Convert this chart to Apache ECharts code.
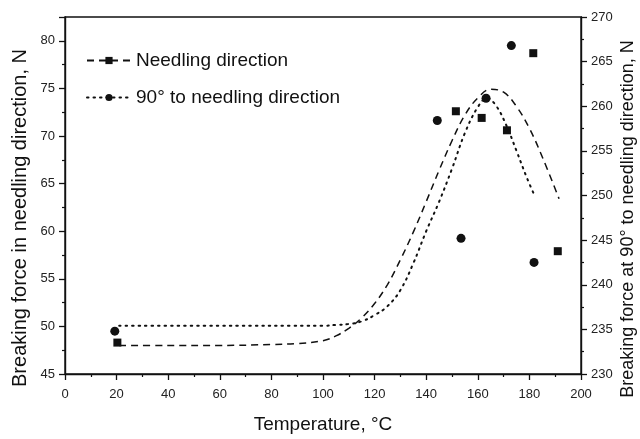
<!DOCTYPE html>
<html>
<head>
<meta charset="utf-8">
<script src="https://cdn.jsdelivr.net/npm/echarts@6/dist/echarts.min.js"></script>
<style>html,body{margin:0;padding:0;background:#fff}#c{width:640px;height:439px}</style>
</head>
<body>
<div id="c"></div>
<script>
// Measured points: Needling direction (left axis, N)
const needlingPts = [[20.3, 48.3], [151.5, 72.6], [161.5, 71.9], [171.3, 70.6], [181.5, 78.7], [191, 57.9]];
// Measured points: 90° to needling direction (right axis, N)
const crossPts = [[19.3, 234.8], [144.3, 258.4], [153.5, 245.2], [163.2, 260.9], [173, 266.8], [181.8, 242.5]];
// Fitted curve: Needling direction (left axis)
const needlingFit = [[21, 48.0], [40, 48.0], [60, 48.0], [80, 48.1], [90, 48.2], [100, 48.5], [105, 49.0], [110, 49.8], [115, 50.9], [120, 52.4], [125, 54.4], [130, 57.0], [135, 59.9], [140, 63.1], [145, 66.4], [150, 69.5], [155, 72.2], [160, 74.0], [165, 74.9], [170, 74.6], [175, 73.1], [180, 70.8], [185, 67.8], [191.5, 63.4]];
// Fitted curve: 90° to needling direction (right axis)
const crossFit = [[21, 235.4], [60, 235.4], [100, 235.4], [105, 235.5], [110, 235.6], [115, 235.9], [120, 236.6], [125, 237.6], [130, 239.4], [135, 242.4], [140, 246.0], [145, 249.3], [150, 253.0], [155, 257.0], [160, 259.9], [163.5, 260.9], [167, 260.1], [171, 257.9], [175, 255.0], [179, 252.0], [182, 250.0]];
const seriesNames = ['Needling direction', '90° to needling direction'];
const axisTitles = ['Temperature, °C', 'Breaking force in needling direction, N', 'Breaking force at 90° to needling direction, N'];

const font = 'Liberation Sans, Arial, sans-serif';
const chart = echarts.init(document.getElementById('c'));
const axisLine = {show: true, lineStyle: {color: '#111', width: 1.4}};
const tick = {show: true, length: 6, lineStyle: {color: '#111', width: 1.3}};
const minor = {show: true, splitNumber: 2, length: 3, lineStyle: {color: '#111', width: 1.2}};
const label = {fontFamily: font, fontSize: 13, color: '#222', margin: 10};
chart.setOption({
  animation: false,
  backgroundColor: '#fff',
  grid: {left: 65, right: 59, top: 17, bottom: 60, show: true, borderColor: '#111', borderWidth: 1.4, backgroundColor: 'transparent'},
  legend: {
    data: seriesNames,
    left: 81, top: 46, orient: 'vertical', itemWidth: 44, itemHeight: 9, itemGap: 18,
    textStyle: {fontFamily: font, fontSize: 19, color: '#111'}
  },
  graphic: [{
    type: 'text', x: 20, y: 218, rotation: Math.PI / 2,
    style: {text: axisTitles[1], font: '20px ' + font, fill: '#111', align: 'center', verticalAlign: 'middle'}
  }, {
    type: 'text', x: 628, y: 219, rotation: Math.PI / 2,
    style: {text: axisTitles[2], font: '18px ' + font, fill: '#111', align: 'center', verticalAlign: 'middle'}
  }],
  xAxis: {
    type: 'value', min: 0, max: 200, interval: 20,
    name: axisTitles[0], nameLocation: 'middle', nameGap: 41,
    nameTextStyle: {fontFamily: font, fontSize: 19, color: '#111'},
    axisLine: axisLine, axisTick: tick, minorTick: minor,
    axisLabel: Object.assign({}, label, {margin: 14}),
    splitLine: {show: false}
  },
  yAxis: [{
    type: 'value', min: 45, max: 82.5, interval: 5, position: 'left',
    axisLine: axisLine, axisTick: tick, minorTick: minor,
    axisLabel: Object.assign({}, label, {showMaxLabel: false}),
    splitLine: {show: false}
  }, {
    type: 'value', min: 230, max: 270, interval: 5, position: 'right',
    axisLine: axisLine, axisTick: tick, minorTick: minor,
    axisLabel: label,
    splitLine: {show: false}
  }],
  series: [{
    name: seriesNames[0], type: 'line', yAxisIndex: 0, data: needlingFit, smooth: 0.4,
    symbol: 'rect', showSymbol: false, color: '#111',
    lineStyle: {color: '#111', width: 1.5, type: [7, 5]}, itemStyle: {color: '#111'}
  }, {
    name: seriesNames[1], type: 'line', yAxisIndex: 1, data: crossFit, smooth: 0.4,
    symbol: 'circle', showSymbol: false, color: '#111',
    lineStyle: {color: '#111', width: 2, type: [1.5, 5], cap: 'round'}, itemStyle: {color: '#111'}
  }, {
    name: 'needling-pts', type: 'scatter', yAxisIndex: 0, data: needlingPts,
    symbol: 'rect', symbolSize: 8, itemStyle: {color: '#111', opacity: 1}
  }, {
    name: 'cross-pts', type: 'scatter', yAxisIndex: 1, data: crossPts,
    symbol: 'circle', symbolSize: 9, itemStyle: {color: '#111', opacity: 1}
  }]
});
</script>
</body>
</html>
